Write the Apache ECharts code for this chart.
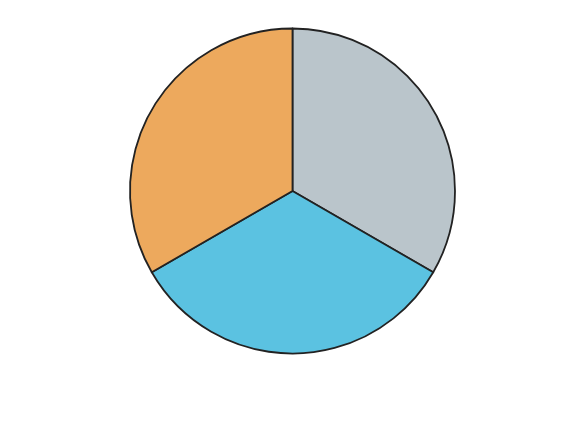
<!DOCTYPE html>
<html>
<head>
<meta charset="utf-8">
<script src="https://cdn.jsdelivr.net/npm/echarts@6/dist/echarts.min.js"></script>
<style>html,body{margin:0;padding:0;background:#fff}#c{width:585px;height:439px}</style>
</head>
<body>
<div id="c"></div>
<script>
var categories = ['A', 'B', 'C'];
var values = [1, 1, 1];
var colors = ['#BAC5CB', '#5BC2E1', '#EDA95D'];

var chart = echarts.init(document.getElementById('c'), null, {renderer: 'canvas'});
chart.setOption({
  animation: false,
  series: [{
    type: 'pie',
    center: [292.5, 191],
    radius: 162.5,
    startAngle: 90,
    clockwise: true,
    label: {show: false},
    labelLine: {show: false},
    emphasis: {disabled: true},
    itemStyle: {borderColor: '#222222', borderWidth: 1.8},
    data: categories.map(function (n, i) {
      return {name: n, value: values[i], itemStyle: {color: colors[i]}};
    })
  }]
});
</script>
</body>
</html>
